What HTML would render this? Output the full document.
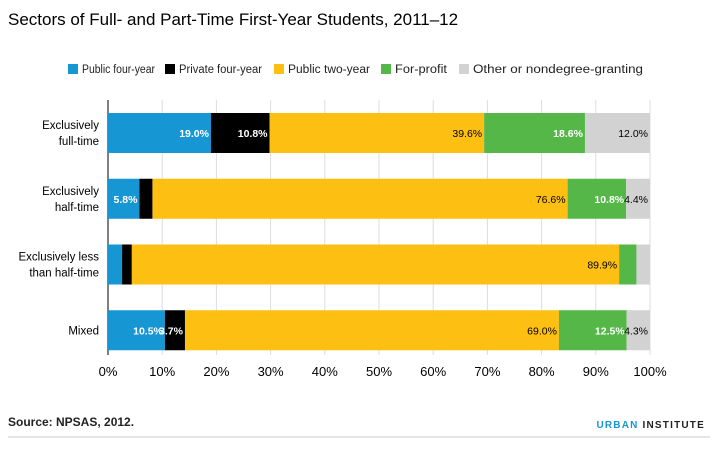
<!DOCTYPE html>
<html><head><meta charset="utf-8"><style>
body{margin:0;background:#fff;font-family:"Liberation Sans",sans-serif;}
#wrap{position:relative;width:718px;height:449px;overflow:hidden;}
</style></head><body>
<div id="wrap">
<svg id="svg" width="718" height="449">
<text x="8" y="25" font-size="17" fill="#000">Sectors of Full- and Part-Time First-Year Students, 2011–12</text>
<g id="legend"></g>
<g id="grid"></g>
<g id="bars"></g>
<g id="xaxis"></g>
<g id="yaxis"></g>
<text x="8" y="426" font-size="12" font-weight="bold" fill="#222">Source: NPSAS, 2012.</text>
<text x="705" y="428" font-size="10" font-weight="bold" letter-spacing="1.2" text-anchor="end"><tspan fill="#1696d2">URBAN</tspan><tspan fill="#222"> INSTITUTE</tspan></text>
<line x1="8" y1="437" x2="710" y2="437" stroke="#ccc" stroke-width="1"/>
</svg>
</div>
<script>
const categories=[["Exclusively","full-time"],["Exclusively","half-time"],["Exclusively less","than half-time"],["Mixed"]];
const seriesNames=["Public four-year","Private four-year","Public two-year","For-profit","Other or nondegree-granting"];
const publicFour=[19.0,5.8,2.6,10.5];
const privateFour=[10.8,2.4,1.8,3.7];
const publicTwo=[39.6,76.6,89.9,69.0];
const forProfit=[18.6,10.8,3.2,12.5];
const other=[12.0,4.4,2.5,4.3];
const shown=[[true,true,true,true,true],[true,false,true,true,true],[false,false,true,false,false],[true,true,true,true,true]];
const ticks=[0,10,20,30,40,50,60,70,80,90,100];
const colors=["#1696d2","#000000","#fdbf11","#55b748","#d2d2d2"];
const labelColors=["#fff","#fff","#000","#fff","#000"];
const NS="http://www.w3.org/2000/svg";
const plotX0=108,plotX1=650,plotTop=100,plotBottom=363;
const xs=v=>plotX0+(plotX1-plotX0)*v/100;
const bandH=(plotBottom-plotTop)/categories.length;
const yb=i=>plotTop+i*bandH+13;
const barH=40;
function mk(t,a,p){const e=document.createElementNS(NS,t);for(const k in a)e.setAttribute(k,a[k]);p.appendChild(e);return e;}
const series=[publicFour,privateFour,publicTwo,forProfit,other];
const L=document.getElementById('legend');
const legX=[68,165,274,381,459];
const legW=[73,83,82,52,170];
seriesNames.forEach((n,i)=>{
 const r=mk('rect',{x:legX[i],y:64,width:10,height:10,fill:colors[i]},L);
 
 
 const t=mk('text',{x:legX[i]+14,y:73,'font-size':11.5,fill:'#222',textLength:legW[i],lengthAdjust:'spacingAndGlyphs'},L);t.textContent=n;
 
 
});
const G=document.getElementById('grid'),X=document.getElementById('xaxis');
ticks.forEach(v=>{
 const l=mk('line',{x1:xs(v),x2:xs(v),y1:plotTop,y2:plotBottom-8,stroke:v===0?'#000':'#ddd','stroke-width':1},G);
 
 
 const t=mk('text',{x:xs(v),y:376,'font-size':13,'text-anchor':'middle',fill:'#000'},X);t.textContent=v+'%';
 
 
});
const B=document.getElementById('bars'),Y=document.getElementById('yaxis');
categories.forEach((c,i)=>{
 let acc=0;const y=yb(i);
 series.forEach((s,j)=>{
  const v=s[i];
  const r=mk('rect',{x:xs(acc),y:y,width:xs(acc+v)-xs(acc),height:barH,fill:colors[j]},B);
  
  
  acc+=v;
  if(shown[i][j]){
   const t=mk('text',{x:xs(acc)-2,y:y+barH/2+4,'font-size':10.5,'text-anchor':'end',fill:labelColors[j],'font-weight':labelColors[j]==='#fff'?'bold':'normal'},B);
   t.textContent=v.toFixed(1)+'%';
   
   
  }
 });
 const cy=y+barH/2;
 c.forEach((line,k)=>{
  const t=mk('text',{x:99,y:cy+4+(k-(c.length-1)/2)*16,'font-size':11.5,'text-anchor':'end',fill:'#000'},Y);
  t.textContent=line;
  
  
 });
});
</script>
</body></html>
